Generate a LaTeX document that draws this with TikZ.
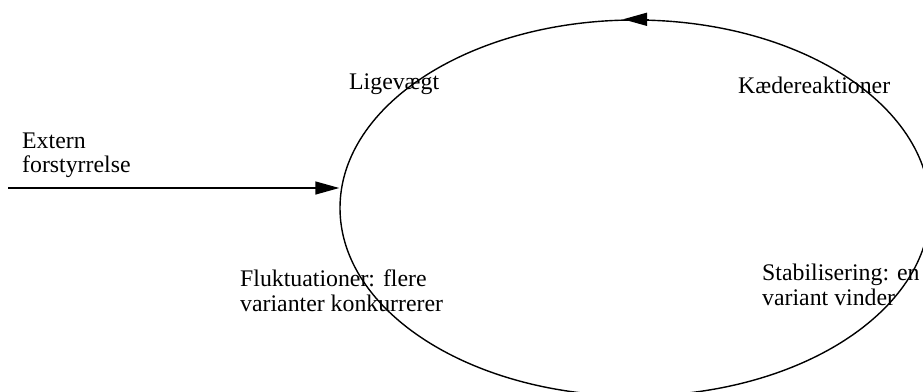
\documentclass[tikz,border=0pt]{standalone}
\usepackage{fontspec}
\setmainfont{Liberation Serif}
\usetikzlibrary{shapes.geometric,arrows.meta}
\begin{document}
\begin{tikzpicture}[x=1pt,y=-1pt,
  lbl/.style={inner sep=0pt,anchor=base west,align=left,font=\fontsize{23.8}{24.4}\selectfont},
  conn/.style={line width=1.4pt,-{Triangle[length=24pt,width=13pt]}}]
\useasboundingbox (0,0) rectangle (923,391);
\node[draw,ellipse,line width=1.4pt,minimum width=590pt,minimum height=376pt,inner sep=0pt] (cyc) at (635,208) {};
\coordinate (tipfrom) at ([xshift=14pt]cyc.north);
\coordinate (tipto) at ([xshift=-12pt]cyc.north);
\draw[conn] (tipfrom) -- (tipto);
\coordinate (src) at (8,188);
\draw[conn] (src) -- (src -| cyc.west);
\node[lbl] (ext) at (22,172.5) {Extern\\forstyrrelse};
\node[lbl] (lig) at (349,89) {Ligevægt};
\node[lbl] (kaede) at (738,93) {Kædereaktioner};
\node[lbl] (fluk) at (240,311) {Fluktuationer: flere\\varianter konkurrerer};
\node[lbl] (stab) at (762,305) {Stabilisering: en\\variant vinder};
\end{tikzpicture}
\end{document}
